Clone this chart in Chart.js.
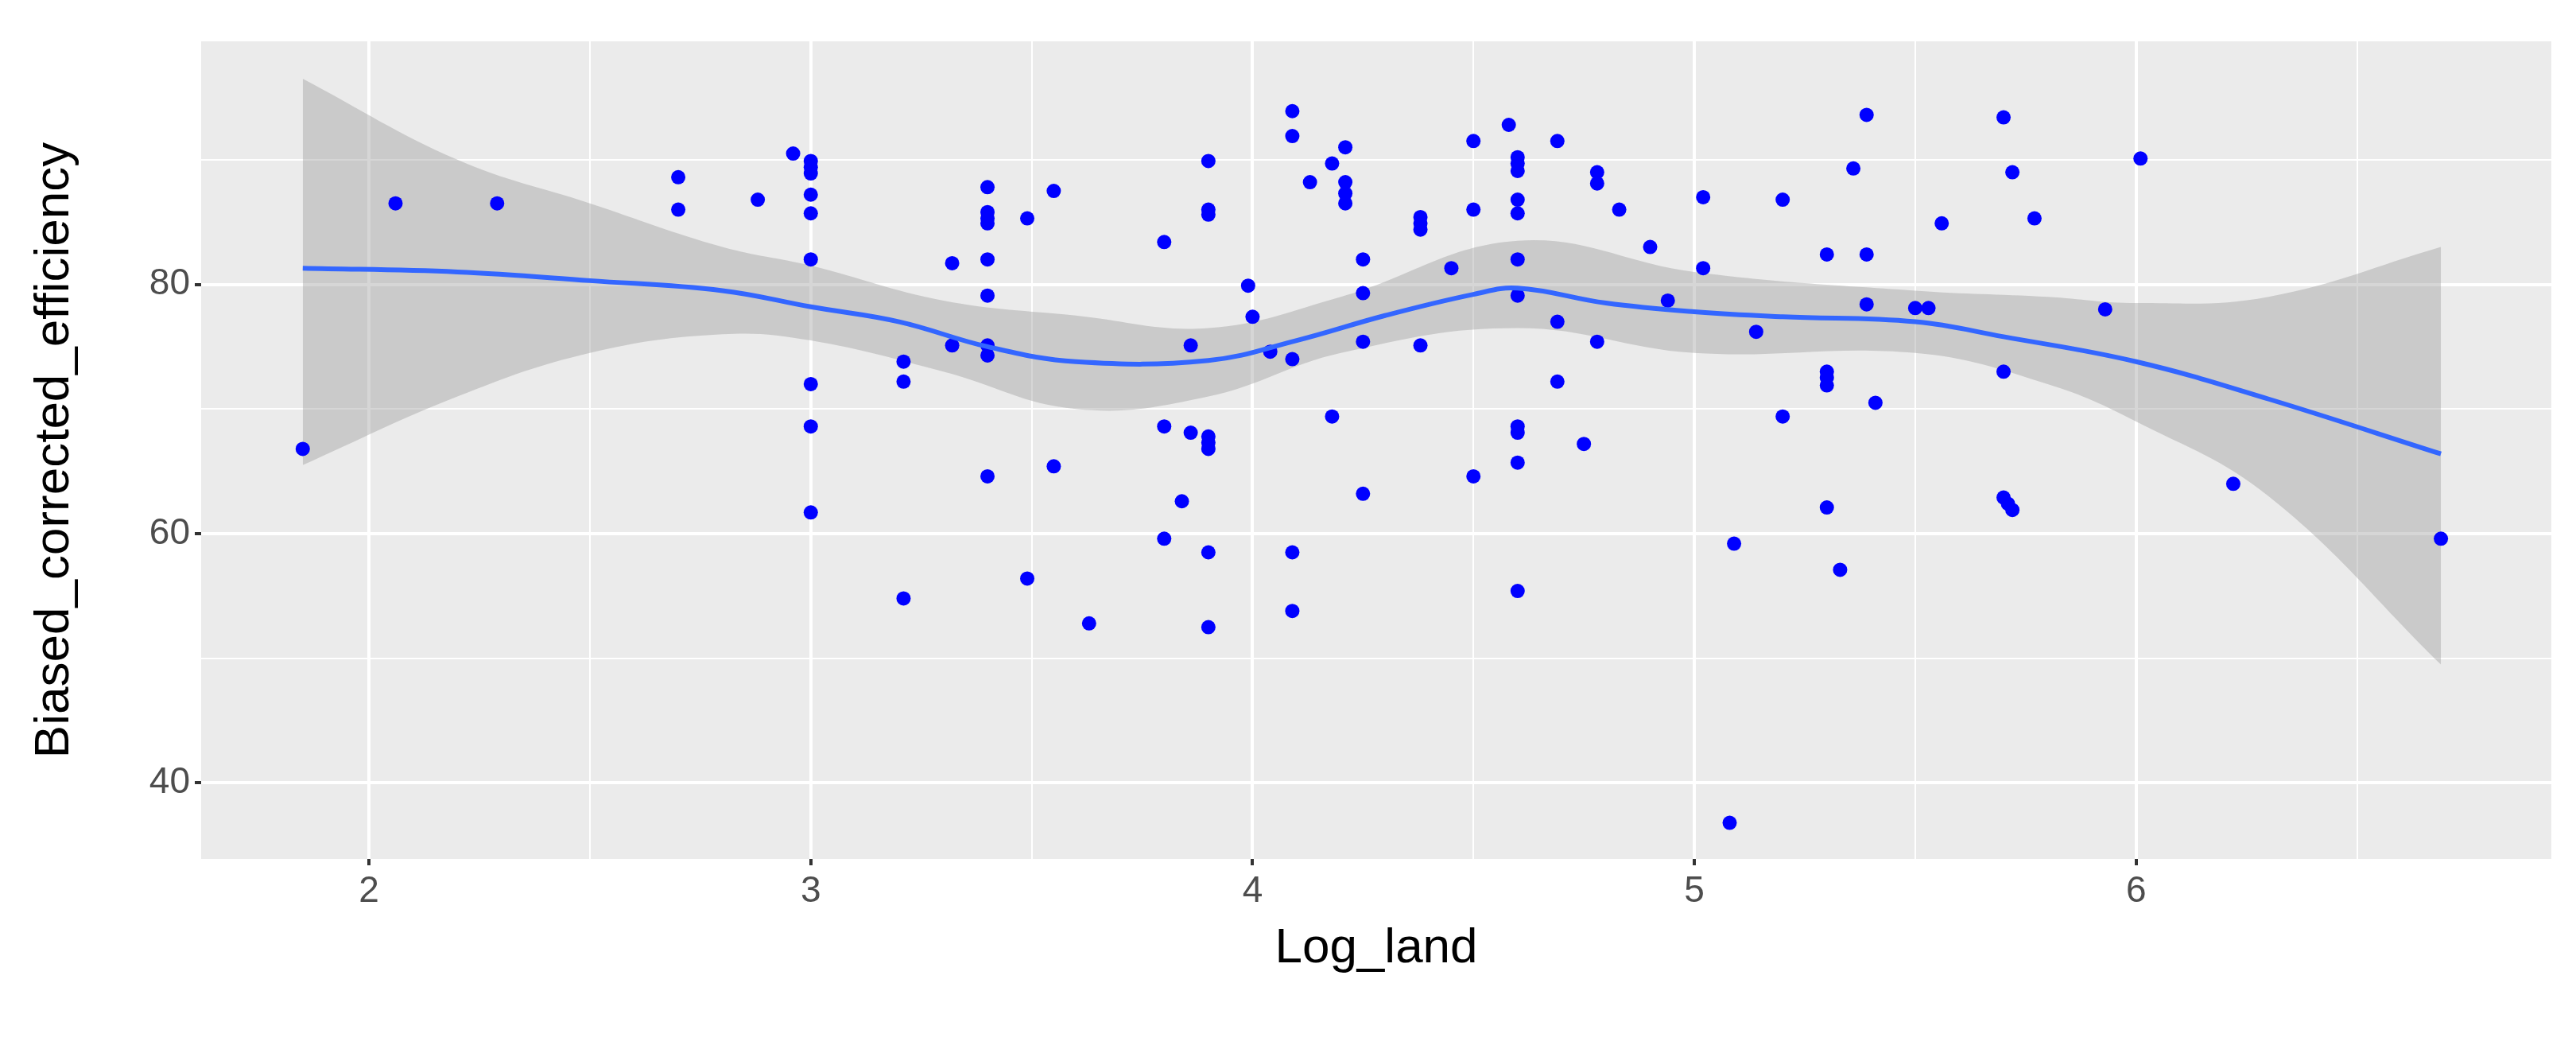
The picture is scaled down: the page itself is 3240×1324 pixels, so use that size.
<!DOCTYPE html>
<html>
<head>
<meta charset="UTF-8">
<script src="https://cdn.jsdelivr.net/npm/chart.js"></script>
<style>body{margin:0;background:#fff}</style>
</head>
<body>
<div style="width:3240px;height:1324px;"><canvas id="c"></canvas></div>
<script>
// scatter points
const logLand = [1.85,2.06,2.29,2.70,2.70,2.88,2.96,3.0,3.0,3.0,3.0,3.0,3.0,3.0,3.0,3.0,
  3.21,3.21,3.21,3.32,3.32,3.40,3.40,3.40,3.40,3.40,3.40,3.40,3.40,3.40,3.49,3.49,3.55,3.55,3.63,
  3.80,3.80,3.80,3.84,3.86,3.86,3.90,3.90,3.90,3.90,3.90,3.90,3.90,3.90,3.99,4.0,4.04,
  4.09,4.09,4.09,4.09,4.09,4.13,4.18,4.18,4.21,4.21,4.21,4.21,4.25,4.25,4.25,4.25,
  4.38,4.38,4.38,4.38,4.45,4.50,4.50,4.50,4.58,4.6,4.6,4.6,4.6,4.6,4.6,4.6,4.6,4.6,4.6,4.6,
  4.69,4.69,4.69,4.75,4.78,4.78,4.78,4.83,4.90,4.94,5.02,5.02,5.08,5.09,5.14,5.2,5.2,
  5.30,5.30,5.30,5.30,5.30,5.33,5.36,5.39,5.39,5.39,5.41,5.50,5.53,5.56,
  5.70,5.70,5.70,5.71,5.72,5.72,5.77,5.93,6.01,6.22,6.69];
const efficiency = [66.8,86.5,86.5,88.6,86,86.8,90.5,89.9,89.4,88.9,87.2,85.7,82,72,68.6,61.7,
  73.8,72.2,54.8,81.7,75.1,87.8,85.8,85.3,84.9,82,79.1,75.1,74.3,64.6,85.3,56.4,87.5,65.4,52.8,
  83.4,68.6,59.6,62.6,75.1,68.1,89.9,86,85.6,67.8,67.3,66.8,58.5,52.5,79.9,77.4,74.6,
  93.9,91.9,74,58.5,53.8,88.2,69.4,89.7,91,88.2,87.3,86.5,82,79.3,75.4,63.2,
  85.4,84.9,84.4,75.1,81.3,91.5,86,64.6,92.8,90.2,89.7,89.1,86.8,85.7,82,79.1,68.6,68.1,65.7,55.4,
  91.5,77,72.2,67.2,89,88.1,75.4,86,83,78.7,87,81.3,36.8,59.2,76.2,86.8,69.4,
  82.4,73,72.5,71.9,62.1,57.1,89.3,93.6,82.4,78.4,70.5,78.1,78.1,84.9,
  93.4,73,62.9,62.4,61.9,89,85.3,78,90.1,64,59.6];

// loess fit and confidence band
const fitX = [1.85,2.2,2.5,2.8,3.0,3.2,3.4,3.6,3.9,4.1,4.3,4.5,4.6,4.8,5.0,5.2,5.5,5.7,6.0,6.3,6.69];
const fitY = [81.3,81,80.3,79.5,78.2,77,75,73.8,73.9,75.5,77.5,79.2,79.7,78.5,77.8,77.4,77,75.8,73.8,70.8,66.4];
const bandX = [1.85,2.2,2.5,2.8,3.0,3.3,3.6,3.9,4.2,4.6,5.0,5.5,5.8,6.0,6.3,6.69];
const bandHi = [96.5,90,86.5,83,81.5,78.7,77.5,76.5,79,83.5,81,79.5,79,78.5,79,83];
const bandLo = [65.5,71,74.5,76,75.5,73,70,71,74.5,76.5,74.5,74.5,72,69,63,49.5];

const xy = (xs, ys) => xs.map((x, i) => ({x: x, y: ys[i]}));

const panel = {
  id: 'panel',
  beforeDraw(chart) {
    const a = chart.chartArea, ctx = chart.ctx;
    ctx.save();
    ctx.fillStyle = '#EBEBEB';
    ctx.fillRect(a.left, a.top, a.right - a.left, a.bottom - a.top);
    ctx.restore();
  }
};

const isMajor = (c, major) => {
  const v = c.tick ? c.tick.value : 0;
  return Math.abs(v / major - Math.round(v / major)) < 1e-6;
};

new Chart(document.getElementById('c'), {
  type: 'scatter',
  data: {
    datasets: [
      {type: 'line', data: xy(bandX, bandHi), borderWidth: 0, pointRadius: 0, fill: '+1',
       backgroundColor: 'rgba(153,153,153,0.4)', tension: 0.4, order: 3},
      {type: 'line', data: xy(bandX, bandLo), borderWidth: 0, pointRadius: 0, fill: false, tension: 0.4, order: 3},
      {data: xy(logLand, efficiency), backgroundColor: '#0000FF', borderWidth: 0, pointRadius: 9, order: 2},
      {type: 'line', data: xy(fitX, fitY), borderColor: '#3366FF', borderWidth: 6, pointRadius: 0,
       fill: false, tension: 0.4, order: 1}
    ]
  },
  options: {
    responsive: true,
    maintainAspectRatio: false,
    animation: false,
    layout: {padding: {top: 52, right: 31, left: 28, bottom: 90}},
    plugins: {legend: {display: false}, tooltip: {enabled: false}},
    scales: {
      x: {
        min: 1.62, max: 6.94,
        afterFit: s => { s.height = 154; },
        afterBuildTicks: s => { s.ticks = [1.5,2,2.5,3,3.5,4,4.5,5,5.5,6,6.5].filter(v => v >= s.min && v <= s.max).map(v => ({value: v})); },
        grid: {color: '#FFFFFF', lineWidth: c => isMajor(c, 1) ? 4 : 2, tickLength: 8,
          tickColor: c => isMajor(c, 1) ? '#333333' : 'rgba(0,0,0,0)'},
        border: {display: false},
        ticks: {font: {family: 'Liberation Sans', size: 46}, color: '#4D4D4D', padding: 6,
          callback: v => Number.isInteger(v) ? String(v) : ''},
        title: {display: true, text: 'Log_land', font: {family: 'Liberation Sans', size: 62}, color: '#000', padding: {top: 4}}
      },
      y: {
        min: 33.9, max: 99.5,
        afterFit: s => { s.width = 225; },
        afterBuildTicks: s => { s.ticks = [40,50,60,70,80,90].map(v => ({value: v})); },
        grid: {color: '#FFFFFF', lineWidth: c => isMajor(c, 20) ? 4 : 2, tickLength: 8,
          tickColor: c => isMajor(c, 20) ? '#333333' : 'rgba(0,0,0,0)'},
        border: {display: false},
        ticks: {font: {family: 'Liberation Sans', size: 46}, color: '#4D4D4D', padding: 6,
          callback: v => v % 20 === 0 ? String(v) : ''},
        title: {display: true, text: 'Biased_corrected_efficiency', font: {family: 'Liberation Sans', size: 62}, color: '#000', padding: {bottom: 4}}
      }
    }
  },
  plugins: [panel]
});
</script>
</body>
</html>
